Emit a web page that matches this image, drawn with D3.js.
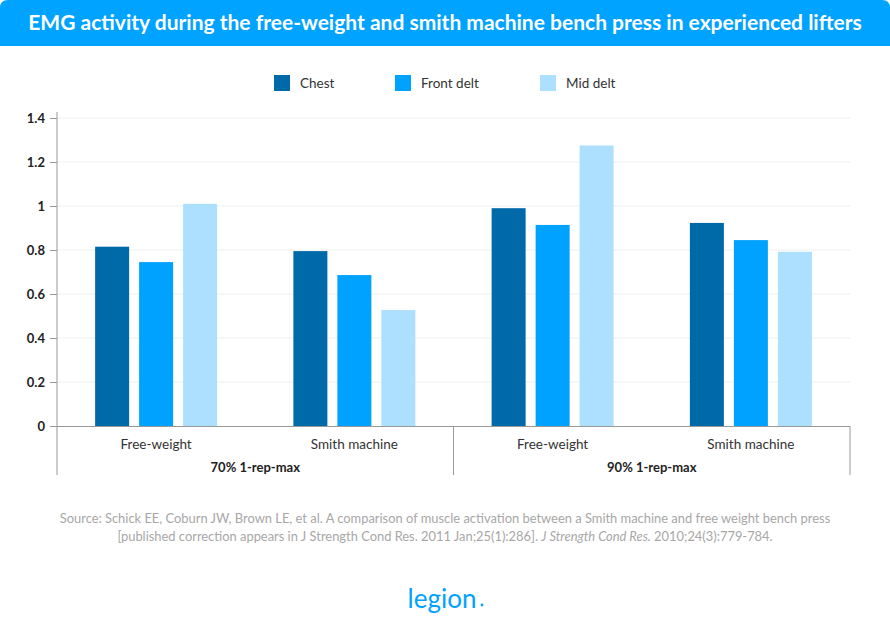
<!DOCTYPE html>
<html><head><meta charset="utf-8">
<script src="https://cdn.jsdelivr.net/npm/d3@7"></script>
<style>body{margin:0;background:#fff}svg{display:block}</style>
</head><body>
<script>
const groups = ["70% 1-rep-max", "90% 1-rep-max"];
const categories = ["Free-weight", "Smith machine", "Free-weight", "Smith machine"];
const series = ["Chest", "Front delt", "Mid delt"];
const chest = [0.815, 0.795, 0.99, 0.923];
const frontDelt = [0.745, 0.686, 0.914, 0.845];
const midDelt = [1.01, 0.527, 1.275, 0.792];
const yTicks = [0, 0.2, 0.4, 0.6, 0.8, 1, 1.2, 1.4];
const colors = ["#0069a7", "#00a2ff", "#addfff"];
const values = [chest, frontDelt, midDelt];

(function(){
const W = 890, H = 637;
const font = "Lato, 'Open Sans', sans-serif";
const svg = d3.select("body").append("svg").attr("width", W).attr("height", H);

// Title bar
svg.append("path")
  .attr("d", `M0,46 L0,8 Q0,0 8,0 L882,0 Q890,0 890,8 L890,46 Z`)
  .attr("fill", "#00a3ff");
svg.append("text").attr("x", W/2).attr("y", 29.5).attr("text-anchor", "middle")
  .attr("fill", "#fff").attr("font-family", font).attr("font-weight", 700)
  .attr("font-size", 21).text("EMG activity during the free-weight and smith machine bench press in experienced lifters");

// Legend
const legX = [274, 395, 540];
series.forEach((s, i) => {
  svg.append("rect").attr("x", legX[i]).attr("y", 75).attr("width", 16).attr("height", 16).attr("fill", colors[i]);
  svg.append("text").attr("x", legX[i] + 26).attr("y", 88).attr("font-family", font)
    .attr("font-size", 13.5).attr("fill", "#333").text(s);
});

const mLeft = 57, mRight = 850, mTop = 118, mBottom = 426;
const y = d3.scaleLinear().domain([0, 1.4]).range([mBottom, mTop]);
const x0 = d3.scaleBand().domain(d3.range(categories.length)).range([mLeft, mRight]);
const span = 122;
const x1 = d3.scaleBand().domain(d3.range(series.length)).range([0, span]).paddingInner(10/44).paddingOuter(0);

// grid
svg.append("g").selectAll("line").data(yTicks.filter(d => d > 0)).join("line")
  .attr("x1", mLeft).attr("x2", mRight).attr("y1", d => y(d)).attr("y2", d => y(d))
  .attr("stroke", "#efefef").attr("stroke-width", 1);

// y axis
const yAxis = d3.axisLeft(y).tickValues(yTicks).tickFormat(d => String(d)).tickSize(7).tickPadding(5);
const gy = svg.append("g").attr("transform", `translate(${mLeft},0)`).call(yAxis);
gy.select(".domain").remove();
gy.selectAll(".tick line").attr("stroke", "#999");
gy.selectAll(".tick text").attr("font-family", font).attr("font-weight", 700)
  .attr("font-size", 13).attr("fill", "#222");
svg.append("line").attr("x1", mLeft).attr("x2", mLeft).attr("y1", 112).attr("y2", 475).attr("stroke", "#999");

// bars
const bg = svg.append("g");
categories.forEach((c, ci) => {
  const gx = x0(ci) + (x0.bandwidth() - span) / 2;
  series.forEach((s, si) => {
    bg.append("rect").attr("x", gx + x1(si)).attr("width", x1.bandwidth())
      .attr("y", y(values[si][ci])).attr("height", y(0) - y(values[si][ci]))
      .attr("fill", colors[si]);
  });
});

// x axis
svg.append("line").attr("x1", 50).attr("x2", mRight).attr("y1", mBottom + 0.5).attr("y2", mBottom + 0.5).attr("stroke", "#999");
[x0(2), mRight].forEach(v => svg.append("line").attr("x1", v).attr("x2", v).attr("y1", mBottom).attr("y2", 475).attr("stroke", "#999"));
categories.forEach((c, ci) => {
  svg.append("text").attr("x", x0(ci) + x0.bandwidth()/2).attr("y", 449).attr("text-anchor", "middle")
    .attr("font-family", font).attr("font-size", 13.5).attr("fill", "#333").text(c);
});
groups.forEach((g, gi) => {
  svg.append("text").attr("x", x0(gi*2 + 1)).attr("y", 472).attr("text-anchor", "middle")
    .attr("font-family", font).attr("font-weight", 700).attr("font-size", 13).attr("fill", "#222").text(g);
});

// source
const src = svg.append("g").attr("font-family", font).attr("font-size", 12.9).attr("fill", "#a7a7a7");
src.append("text").attr("x", W/2).attr("y", 523).attr("text-anchor", "middle")
  .text("Source: Schick EE, Coburn JW, Brown LE, et al. A comparison of muscle activation between a Smith machine and free weight bench press");
const t2 = src.append("text").attr("x", W/2).attr("y", 541).attr("text-anchor", "middle");
t2.append("tspan").text("[published correction appears in J Strength Cond Res. 2011 Jan;25(1):286]. ");
t2.append("tspan").attr("font-style", "italic").text("J Strength Cond Res.");
t2.append("tspan").text(" 2010;24(3):779-784.");

// logo
svg.append("text").attr("x", 442).attr("y", 608).attr("text-anchor", "middle")
  .attr("font-family", font).attr("font-size", 26).attr("fill", "#00a2ff").text("legion");
svg.append("circle").attr("cx", 482).attr("cy", 605).attr("r", 1.4).attr("fill", "#00a2ff");
})();
</script>
</body></html>
